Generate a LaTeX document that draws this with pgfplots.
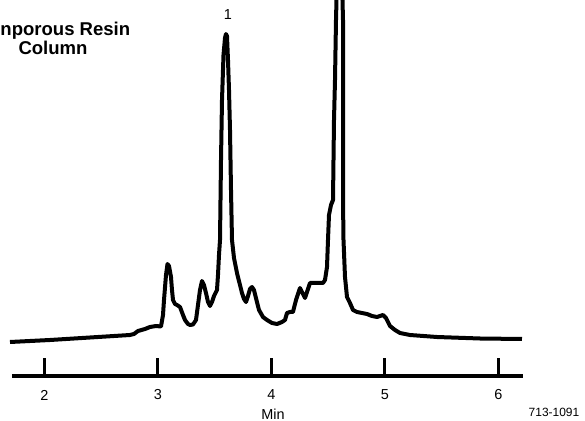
\documentclass[border=0pt]{standalone}
\usepackage{fontspec}
\setmainfont{Liberation Sans}
\usepackage{pgfplots}
\pgfplotsset{compat=1.18}
\begin{document}
\begin{tikzpicture}
\useasboundingbox (0,0) rectangle (585bp,421bp);
\begin{axis}[
  at={(12bp,45bp)}, anchor=south west,
  x=113.5bp, y=1bp,
  xmin=1.7137, xmax=6.2159, ymin=45, ymax=421,
  clip=false,
  axis x line=bottom, hide y axis,
  x axis line style={-, line width=4.2bp, black},
  xtick={2,3,4,5,6},
  xtick align=inside,
  major tick length=18bp,
  tick style={line width=3bp, black},
  /pgf/number format/assume math mode=true,
  xticklabel style={font=\fontsize{14.5}{16}\selectfont, anchor=center, yshift=-19bp},
]
\addplot[black, line width=4bp, line join=round] coordinates {
(1.6960,79) (2.0485,81) (2.4009,83.5) (2.7533,86) (2.7885,87) (2.8238,90)
(2.8855,92) (2.9295,94) (2.9824,95) (3.0264,94.5) (3.0441,106) (3.0529,121)
(3.0705,146) (3.0837,157) (3.0969,155) (3.1145,144) (3.1233,131) (3.1322,121)
(3.1498,117) (3.1674,116) (3.1938,114) (3.2203,106) (3.2379,101) (3.2643,97)
(3.2819,96) (3.3084,96.5) (3.3348,101) (3.3524,116) (3.3700,131) (3.3877,140)
(3.4053,136) (3.4229,128) (3.4405,119) (3.4581,115) (3.4758,119) (3.4934,125)
(3.5198,131) (3.5286,146) (3.5374,166) (3.5463,181) (3.5551,261) (3.5639,321)
(3.5771,366) (3.5903,383) (3.5991,387) (3.6079,385) (3.6167,361) (3.6256,331)
(3.6344,291) (3.6432,231) (3.6520,181) (3.6696,163) (3.6960,148) (3.7225,136)
(3.7401,128) (3.7577,122) (3.7753,119) (3.7930,125) (3.8106,132) (3.8282,134)
(3.8458,131) (3.8634,123) (3.8899,111) (3.9251,104) (3.9604,101) (4.0044,98)
(4.0485,97) (4.0925,99) (4.1189,101) (4.1366,108) (4.1630,109) (4.1894,109)
(4.2159,121) (4.2511,133) (4.2687,129) (4.2952,123) (4.3128,129) (4.3392,138)
(4.3833,138) (4.4273,138) (4.4537,138) (4.4714,141) (4.4890,154) (4.4978,181)
(4.5066,206) (4.5242,216) (4.5419,221) (4.5507,301) (4.5595,341) (4.5683,401)
(4.5771,441) (4.5991,461) (4.6211,441) (4.6300,401) (4.6300,321) (4.6300,221)
(4.6344,181) (4.6476,144) (4.6652,124) (4.6916,118) (4.7181,111) (4.7533,109)
(4.7974,108) (4.8414,107) (4.8855,105) (4.9295,104) (4.9559,105) (4.9824,106)
(5.0088,103) (5.0264,99) (5.0441,95) (5.0881,91) (5.1322,88) (5.2203,86)
(5.4581,84) (5.8370,82.5) (6.2070,82)
};
\end{axis}
\node[font=\fontsize{18.6}{19}\selectfont\bfseries, anchor=base] at (53bp,385.5bp) {Nonporous Resin};
\node[font=\fontsize{18.6}{19}\selectfont\bfseries, anchor=base] at (53bp,366.5bp) {Column};
\node[font=\fontsize{14.5}{16}\selectfont] at (228bp,406bp) {1};
\node[font=\fontsize{14.5}{16}\selectfont, anchor=base, inner sep=1bp] at (273bp,1.5bp) {Min};
\node[font=\fontsize{12}{14}\selectfont] at (554bp,9bp) {713-1091};
\end{tikzpicture}
\end{document}
